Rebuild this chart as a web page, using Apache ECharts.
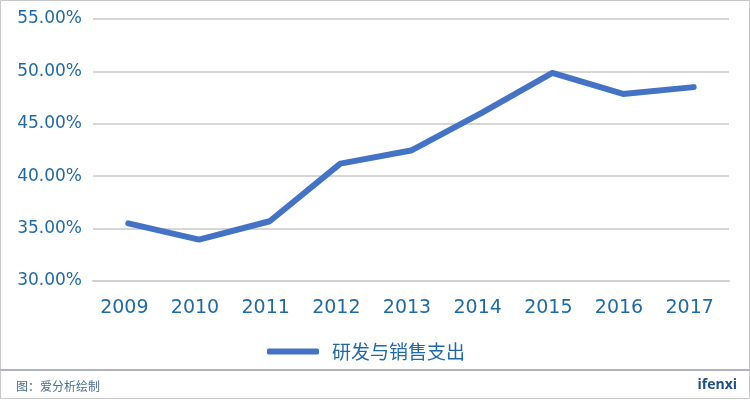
<!DOCTYPE html>
<html><head><meta charset="utf-8">
<script src="https://cdn.jsdelivr.net/npm/echarts@6/dist/echarts.min.js"></script>
<style>html,body{margin:0;padding:0;background:#fff}#c{width:750px;height:400px}</style>
</head><body><div id="c"></div>
<script>
var years = ['2009','2010','2011','2012','2013','2014','2015','2016','2017'];
var spend = [35.5, 33.95, 35.7, 41.2, 42.45, 46.05, 49.85, 47.85, 48.5];
var seriesName = '研发与销售支出';
var chart = echarts.init(document.getElementById('c'), null, {renderer:'canvas'});
var txt = '#1f6aa5';
chart.setOption({
  backgroundColor: '#fff',
  animation: false,
  graphic: [
    {type:'rect', shape:{x:0.5,y:0.5,width:749,height:398}, style:{fill:'none', stroke:'#c8c8c8', lineWidth:1}},
    {type:'line', shape:{x1:0,y1:370,x2:750,y2:370}, style:{stroke:'#b0b4b8', lineWidth:2}},
    {type:'text', left:16, top:380, style:{text:'图：爱分析绘制', fill:'#4a6e96', font:'12px "Noto Sans CJK SC"'}},
    {type:'text', right:13, top:378, style:{text:'ifenxi', fill:'#1f4f86', font:'bold 14px "Open Sans"'}}
  ],
  grid: {left: 93, right: 21, top: 19, bottom: 119, containLabel: false},
  legend: {
    data: [seriesName], top: 337, left: 262,
    itemWidth: 52, itemHeight: 6, itemGap: 10,
    icon: 'roundRect',
    textStyle: {color: txt, fontSize: 19, fontFamily: '"Noto Sans CJK SC"', padding: [0,0,0,8]}
  },
  xAxis: {
    type: 'category', data: years, boundaryGap: true,
    axisLine: {show: true, lineStyle: {color: '#d0d0d0', width: 2}},
    axisTick: {show: false},
    axisLabel: {color: txt, fontSize: 19, margin: 18, fontFamily: 'DejaVu Sans', padding: [0,8,0,0]}
  },
  yAxis: {
    type: 'value', min: 30, max: 55, interval: 5,
    axisLine: {show: false}, axisTick: {show: false},
    axisLabel: {color: txt, fontSize: 17, margin: 11, fontFamily: 'DejaVu Sans',
      formatter: function(v){ return v.toFixed(2) + '%'; }},
    splitLine: {lineStyle: {color: '#d6d6d6', width: 2}}
  },
  series: [{
    name: seriesName, type: 'line', data: spend,
    symbol: 'none', lineStyle: {color: '#4472c4', width: 6, join:'round', cap:'round'},
    itemStyle: {color: '#4472c4'}
  }]
});
</script></body></html>
